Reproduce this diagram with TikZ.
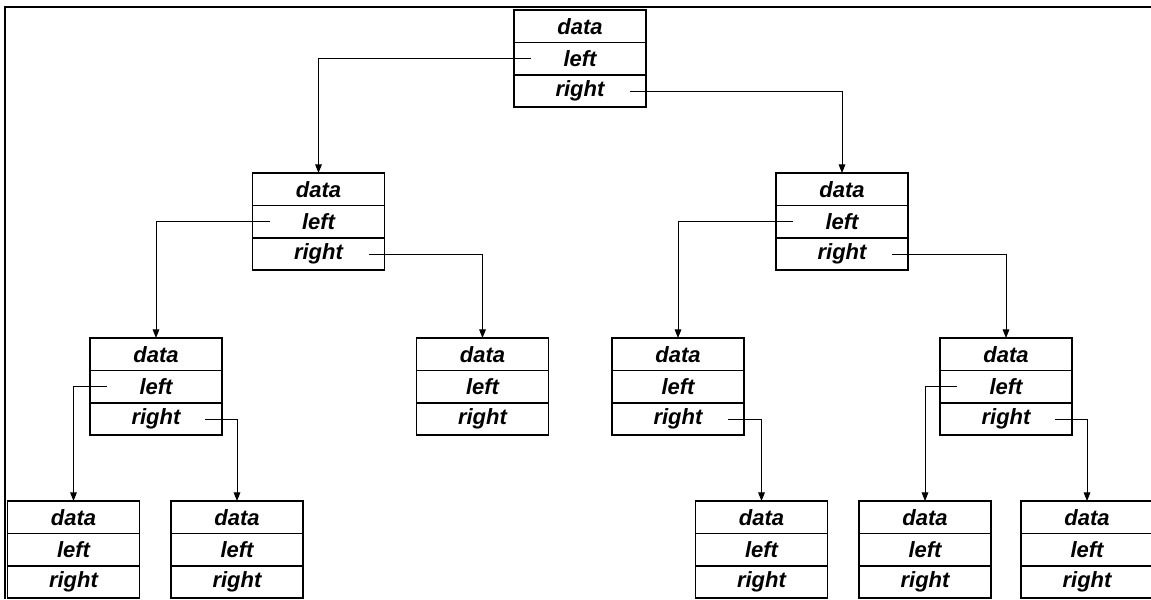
\documentclass[tikz,border=0pt]{standalone}
\usepackage{fontspec}
\setmainfont{Liberation Sans}
\usetikzlibrary{positioning,arrows.meta}

\tikzset{every picture/.style={line width=0.75pt}}
\tikzset{
  cell/.style={draw, line width=1.2pt, outer sep=0pt, inner sep=0pt,
    minimum width=99pt, minimum height=24.3pt,
    font=\fontsize{16.5}{18}\selectfont\bfseries\itshape},
  ptr/.style={line width=0.7pt, -{Triangle[length=6.5pt,width=5pt]}}
}
% one tree node: name, centre x, top y
\newcommand{\bstnode}[3]{%
  \node[cell] (#1D) at (#2,#3+16.2) {data};
  \node[cell, below=0pt of #1D] (#1L) {left};
  \node[cell, below=0pt of #1L] (#1R) {right};
}

\begin{document}
\begin{tikzpicture}[x=0.75pt,y=0.75pt,yscale=-1,xscale=1]
\useasboundingbox (0,0) rectangle (1151,599);

%Frame
\draw [line width=2.2pt] (5,599) -- (5,7) -- (1151,7) ;

%Nodes
\bstnode{root}{580}{10}
\bstnode{lt}{318.5}{173}
\bstnode{rt}{842}{173}
\bstnode{ltl}{156}{338}
\bstnode{ltr}{482.5}{338}
\bstnode{rtl}{678}{338}
\bstnode{rtr}{1006}{338}
\bstnode{ltll}{73.5}{501}
\bstnode{ltlr}{237}{501}
\bstnode{rtlr}{761.5}{501}
\bstnode{rtrl}{925}{501}
\bstnode{rtrr}{1087}{501}

%Pointers
\draw [ptr] ([xshift=12.75pt]rootL.west) -| (ltD.north) ;
\draw [ptr] ([xshift=-12pt]rootR.east) -| (rtD.north) ;
\draw [ptr] ([xshift=12.75pt]ltL.west) -| (ltlD.north) ;
\draw [ptr] ([xshift=-12pt]ltR.east) -| (ltrD.north) ;
\draw [ptr] ([xshift=12.75pt]rtL.west) -| (rtlD.north) ;
\draw [ptr] ([xshift=-12pt]rtR.east) -| (rtrD.north) ;
\draw [ptr] ([xshift=12.75pt]ltlL.west) -| (ltllD.north) ;
\draw [ptr] ([xshift=-12.75pt]ltlR.east) -| (ltlrD.north) ;
\draw [ptr] ([xshift=-12pt]rtlR.east) -| (rtlrD.north) ;
\draw [ptr] ([xshift=12.75pt]rtrL.west) -| (rtrlD.north) ;
\draw [ptr] ([xshift=-12.75pt]rtrR.east) -| (rtrrD.north) ;

\end{tikzpicture}
\end{document}
